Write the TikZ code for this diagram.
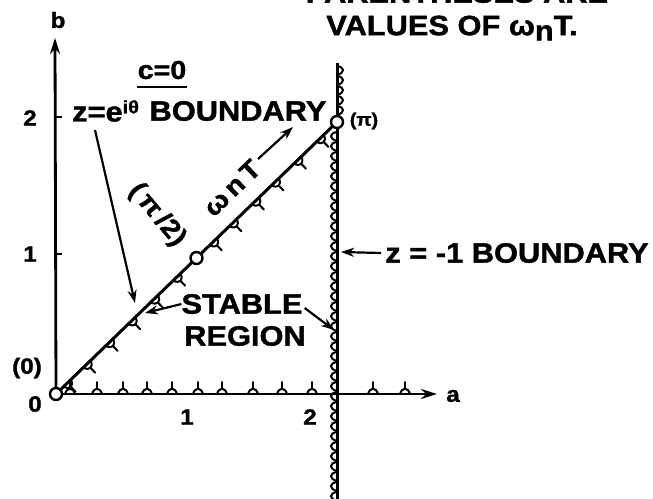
\documentclass[tikz,border=0pt]{standalone}
\usepackage{fontspec}
\setmainfont{Liberation Sans}[BoldFeatures={FakeBold=1.4,FakeStretch=1.1}]
\usetikzlibrary{arrows.meta,calc}
\tikzset{
  hmark/.pic={
    \draw[hatch] (-5,0) .. controls (-3,-7) and (3,-7) .. (5,0);
    \draw[hatch] (0,-5) -- (0,-12);
  }
}
\begin{document}
\begin{tikzpicture}[x=1pt,y=-1pt,
  lbl/.style={font=\bfseries\fontsize{28}{30}\selectfont, inner sep=0pt},
  num/.style={font=\bfseries\fontsize{22}{24}\selectfont, inner sep=0pt},
  smalllbl/.style={font=\bfseries\fontsize{18}{20}\selectfont, inner sep=0pt},
  axisline/.style={line width=2.8pt, -{Stealth[length=16pt,width=10pt]}},
  bline/.style={line width=3pt},
  hatch/.style={line width=2pt, line cap=round},
  ptr/.style={line width=2.2pt, -{Stealth[length=13pt,width=9pt]}},
  ptcircle/.style={circle, draw, line width=2.4pt, fill=white, minimum size=12pt, inner sep=0pt},
]
\useasboundingbox (0,0) rectangle (653,498);
\coordinate (O) at (56,394);
\coordinate (P2) at (337,122);
\coordinate (bEnd) at (55,38);
\coordinate (aEnd) at (437,394);
\coordinate (vTop) at (337,63);
\coordinate (vBot) at (337,502);

% hatching along a-axis
\foreach \x in {70,97,123,147,172,198,222,253,282,312,373,405}
  \pic at (\x,394) {hmark};
% hatching along diagonal
\foreach \t in {0.04,0.11,0.19,0.27,0.35,0.43,0.56,0.63,0.71,0.78,0.86,0.94}
  \pic[rotate=224] at ($(O)!\t!(P2)$) {hmark};
% hatching on z=-1 boundary
\foreach \y in {132,142,...,492}
  \draw[hatch] (337,\y) .. controls (329,\y+1) and (329,\y+7) .. (337,\y+9);
\foreach \y in {66,76,86,96,106}
  \draw[hatch] (337,\y) .. controls (345,\y+1) and (345,\y+7) .. (337,\y+9);

% axes and boundaries
\draw[axisline] (O) -- (bEnd);
\draw[axisline] (O) -- (aEnd);
\draw[bline] (vTop) -- (vBot);
\draw[bline] (O) -- (P2);
\draw[line width=2.4pt] (55,117) -- (62,117);
\draw[line width=2.4pt] (55,254) -- (62,254);

\node[ptcircle] (c0pt) at (O) {};
\node[ptcircle] (c1pt) at ($(O)!0.5!(P2)$) {};
\node[ptcircle] (c2pt) at (P2) {};

% axis labels
\node[num] (lb) at (58,20) {b};
\node[num] (la) at (453,396) {a};
\node[num] (b2) at (30,118) {2};
\node[num] (b1) at (30,254) {1};
\node[num] (o0) at (35,404) {0};
\node[num] (a1) at (187,417) {1};
\node[num] (a2) at (310,417) {2};
\node[num] (o0p) at (27,368) {(0)};

% top texts
\node[lbl] (par) at (457,-7) {PARENTHESES ARE};
\node[lbl] (vals) at (452,28) {VALUES OF ω\raisebox{-0.35ex}{n}T.};

% c=0 boundary label
\node[num, font=\bfseries\fontsize{26}{28}\selectfont] (czero) at (162,70) {c=0};
\draw[line width=2.4pt] (137,87) -- (187,87);
\node[lbl, anchor=west] (zeq) at (72,111) {z=e\raisebox{0.55ex}{\fontsize{18}{18}\selectfont iθ}};
\node[lbl] (bnd) at (238,111) {BOUNDARY};
\coordinate (zs) at (95,130);
\coordinate (ze) at (135,303);
\draw[ptr] (zs) -- (ze);

\node[lbl, rotate=-50, font=\bfseries\fontsize{26}{28}\selectfont] (pihalf) at (157,215) {(\,π\,/2)};
\node[lbl, rotate=44, font=\bfseries\fontsize{26}{28}\selectfont] (wnt) at (232,188) {ω\,n\,T};
\coordinate (ws) at (258,159);
\coordinate (we) at (293,127);
\draw[ptr] (ws) -- (we);
\node[smalllbl] (lpi) at (364,121) {(π)};

\node[lbl] (zm1) at (517,253) {z = -1 BOUNDARY};
\coordinate (zm1e) at (341,252);
\draw[ptr] (zm1.west) ++(-4,0) -- (zm1e);

\node[lbl] (st) at (242,304) {STABLE};
\node[lbl] (rg) at (245,336) {REGION};
\coordinate (stl) at (145,313);
\coordinate (str) at (334,330);
\draw[ptr] (st.west) -- (stl);
\draw[ptr] (st.east) ++(2,4) -- (str);
\end{tikzpicture}
\end{document}
